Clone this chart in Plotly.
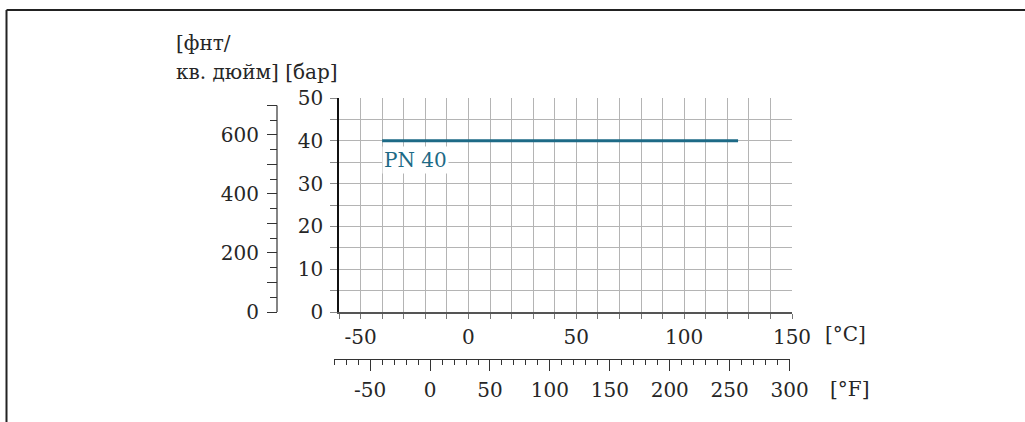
import plotly.graph_objects as go

# ---- data ----
temp_c = [-40, 125]
pressure_bar = [40, 40]
series_label = "PN 40"

c_range = [-60, 150]
c_tickvals = [-50, 0, 50, 100, 150]
c_ticktext = ["-50", "0", "50", "100", "150"]
bar_range = [0, 50]
bar_tickvals = [0, 10, 20, 30, 40, 50]

f_range = [-80, 300]
f_tickvals = [-50, 0, 50, 100, 150, 200, 250, 300]
f_ticktext = ["-50", "0", "50", "100", "150", "200", "250", "300"]

psi_per_bar = 14.5038
psi_tickvals = [0, 100, 200, 300, 400, 500, 600, 700]
psi_ticktext = ["0", "", "200", "", "400", "", "600", ""]

y_title_lines = ["[фнт/", "кв. дюйм] [бар]"]
c_unit = "[°C]"
f_unit = "[°F]"

# ---- layout geometry ----
W, H = 1025, 422
FONT = "DejaVu Serif"
FS = 20
TXT = "#262626"
GRID = "#b4b4b4"
TEAL = "#1d6a86"

def px(x):
    return x / W

def py(y):
    return 1 - y / H

fig = go.Figure()

fig.add_trace(go.Scatter(x=temp_c, y=pressure_bar, mode="lines",
                         line=dict(color=TEAL, width=3), showlegend=False,
                         hoverinfo="skip"))
# invisible helpers so the secondary axes are drawn
fig.add_trace(go.Scatter(x=[None], y=[None], xaxis="x2", yaxis="y3",
                         showlegend=False, hoverinfo="skip"))
fig.add_trace(go.Scatter(x=[None], y=[None], xaxis="x", yaxis="y2",
                         showlegend=False, hoverinfo="skip"))

tickfont = dict(family=FONT, size=FS, color=TXT)

fig.update_layout(
    width=W, height=H,
    margin=dict(l=0, r=0, t=0, b=0, pad=0, autoexpand=False),
    showlegend=False,
    paper_bgcolor="white",
    plot_bgcolor="rgba(0,0,0,0)",
    xaxis=dict(
        domain=[px(339), px(792)], range=c_range,
        tickvals=c_tickvals, ticktext=c_ticktext,
        ticks="outside", ticklen=5, tickcolor="#777",
        tickwidth=1, tickfont=tickfont, ticklabelstandoff=1,
        showgrid=True, gridcolor=GRID, gridwidth=1.3,
        minor=dict(dtick=10, tick0=-60, ticks="outside", ticklen=5,
                   tickcolor="#777", showgrid=True, gridcolor=GRID, gridwidth=1.3),
        showline=True, linecolor="#555", linewidth=2,
        zeroline=False, anchor="y", automargin=False,
    ),
    yaxis=dict(
        domain=[py(312), py(98)], range=bar_range,
        tickvals=bar_tickvals, ticks="outside", ticklen=7, tickcolor="#888",
        tickwidth=1, tickfont=tickfont, ticklabelstandoff=3,
        showgrid=True, gridcolor=GRID, gridwidth=1.3,
        minor=dict(dtick=5, tick0=0, ticks="outside", ticklen=7,
                   tickcolor="#888", showgrid=True, gridcolor=GRID, gridwidth=1.3),
        showline=True, linecolor="#111", linewidth=1.5,
        zeroline=False, anchor="x", automargin=False,
    ),
    xaxis2=dict(
        domain=[px(334.2), px(789.6)], range=f_range,
        anchor="y3", side="bottom",
        tickvals=f_tickvals, ticktext=f_ticktext,
        ticks="outside", ticklen=11, tickcolor="#333",
        tickwidth=1, tickfont=tickfont, ticklabelstandoff=2,
        minor=dict(dtick=10, tick0=0, ticks="outside", ticklen=5,
                   tickcolor="#333", showgrid=False),
        showgrid=False, showline=True, linecolor="#333", linewidth=1.2,
        zeroline=False, automargin=False,
    ),
    yaxis3=dict(
        domain=[py(359), py(355)], range=[0, 1], visible=False,
        anchor="x2", showgrid=False, zeroline=False,
    ),
    yaxis2=dict(
        range=[bar_range[0] * psi_per_bar, bar_range[1] * psi_per_bar],
        overlaying="y", anchor="free", position=px(277), side="left",
        tickvals=psi_tickvals, ticktext=psi_ticktext,
        ticks="outside", ticklen=10, tickcolor="#333", tickwidth=1.2,
        tickfont=tickfont, ticklabelstandoff=4,
        minor=dict(dtick=50, tick0=0, ticks="outside", ticklen=7,
                   tickcolor="#333", showgrid=False),
        showgrid=False, showline=False, zeroline=False, automargin=False,
    ),
)

# psi axis line (0 .. 700 psi)
fig.add_shape(type="line", xref="paper", yref="y2",
              x0=px(277), x1=px(277), y0=psi_tickvals[0], y1=psi_tickvals[-1],
              line=dict(color="#333", width=1.2))

# outer frame (top and left)
fig.add_shape(type="line", xref="paper", yref="paper",
              x0=px(6.5), x1=1, y0=py(10), y1=py(10),
              line=dict(color="#222", width=2))
fig.add_shape(type="line", xref="paper", yref="paper",
              x0=px(6.5), x1=px(6.5), y0=py(10), y1=0,
              line=dict(color="#222", width=2))

# curve label
fig.add_annotation(x=temp_c[0], y=pressure_bar[0], xref="x", yref="y",
                   text=series_label, showarrow=False, xanchor="left",
                   yanchor="top", yshift=-5, xshift=0,
                   bgcolor="white", borderpad=1,
                   font=dict(family=FONT, size=FS, color=TEAL))

# axis titles
fig.add_annotation(x=px(174), y=py(43), xref="paper", yref="paper",
                   text=y_title_lines[0], showarrow=False, xanchor="left",
                   yanchor="middle", font=dict(family=FONT, size=FS, color=TXT))
fig.add_annotation(x=px(174), y=py(72), xref="paper", yref="paper",
                   text=y_title_lines[1], showarrow=False, xanchor="left",
                   yanchor="middle", font=dict(family=FONT, size=FS, color=TXT))
fig.add_annotation(x=px(823), y=py(334), xref="paper", yref="paper",
                   text=c_unit, showarrow=False, xanchor="left",
                   yanchor="middle", font=dict(family=FONT, size=FS, color=TXT))
fig.add_annotation(x=px(828), y=py(389), xref="paper", yref="paper",
                   text=f_unit, showarrow=False, xanchor="left",
                   yanchor="middle", font=dict(family=FONT, size=FS, color=TXT))

post = (
    "document.documentElement.style.overflow='hidden';"
    "document.body.style.margin='0';"
    "document.body.style.overflow='hidden';"
    "var d=document.getElementById('{plot_id}');"
    "d.style.position='fixed';d.style.left='0px';d.style.top='0px';"
)
fig.write_html("out.html", config={"displayModeBar": False}, post_script=post)
